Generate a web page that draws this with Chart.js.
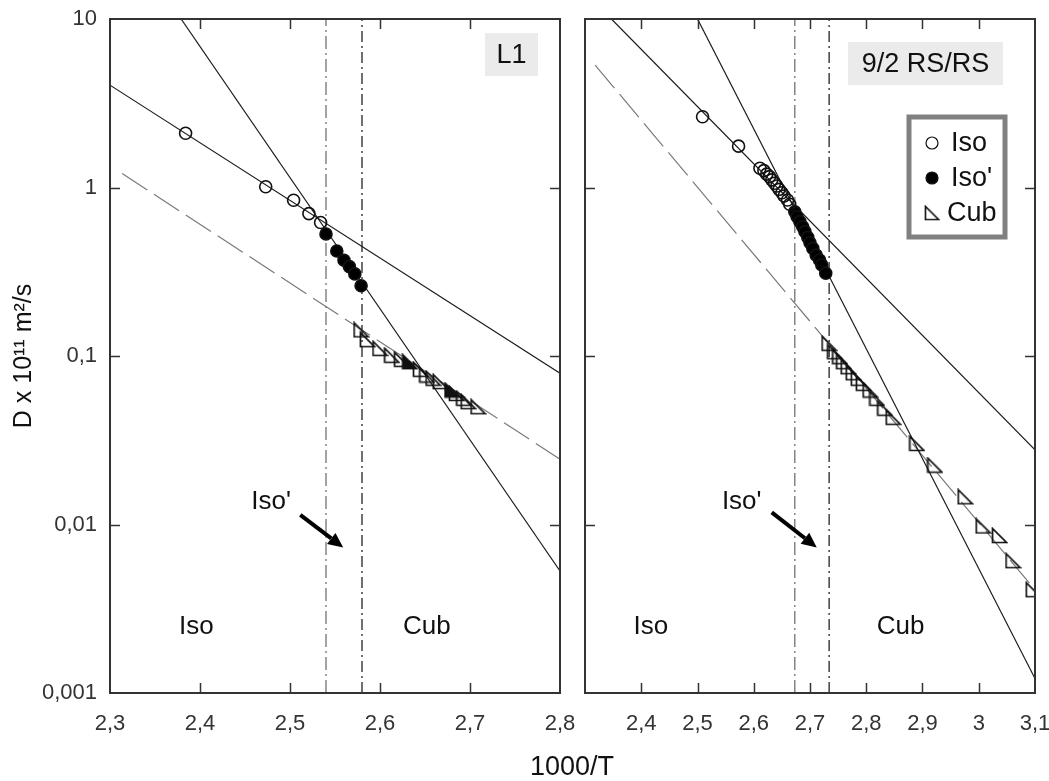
<!DOCTYPE html>
<html>
<head>
<meta charset="utf-8">
<script src="https://cdn.jsdelivr.net/npm/chart.js@4.4.1/dist/chart.umd.min.js"></script>
<style>
  body { margin: 0; background: #fff; }
  #wrap { position: relative; width: 1049px; height: 781px; overflow: hidden; }
  #left { position: absolute; left: 0; top: 0; }
  #right { position: absolute; left: 572px; top: 0; }
  #xtitle { position: absolute; left: 472px; width: 200px; top: 751px; text-align: center;
            font: 27px "Liberation Sans", Arial, sans-serif; line-height: 30px; color: #111; }
</style>
</head>
<body>
<div id="wrap">
  <canvas id="left" width="595" height="781"></canvas>
  <canvas id="right" width="477" height="781"></canvas>
  <div id="xtitle">1000/T</div>
</div>
<script>
// оси
const yTicks = [0.001, 0.01, 0.1, 1, 10];
const xTicksL1 = [2.3, 2.4, 2.5, 2.6, 2.7, 2.8];
const xTicksRS = [2.3, 2.4, 2.5, 2.6, 2.7, 2.8, 2.9, 3.0, 3.1];

// L1 - точки
const l1IsoX = [2.384, 2.473, 2.504, 2.521, 2.534];
const l1IsoY = [2.10, 1.01, 0.84, 0.70, 0.62];
const l1IsoPX = [2.540, 2.552, 2.560, 2.566, 2.572, 2.579];
const l1IsoPY = [0.53, 0.42, 0.37, 0.339, 0.307, 0.261];
const l1CubX = [2.579, 2.586, 2.600, 2.613, 2.624, 2.645, 2.652, 2.659, 2.667, 2.685, 2.693, 2.698, 2.709];
const l1CubY = [0.143, 0.125, 0.111, 0.101, 0.0955, 0.0834, 0.0771, 0.0738, 0.0705, 0.060, 0.0561, 0.0536, 0.050];
const l1CubDarkX = [2.633, 2.680];
const l1CubDarkY = [0.0925, 0.0628];
// L1 - прямые
const l1IsoFitX = [2.3, 2.8];
const l1IsoFitY = [4.05, 0.079];
const l1IsoPFitX = [2.379, 2.8];
const l1IsoPFitY = [10, 0.0053];
const l1CubFitX = [2.3135, 2.8];
const l1CubFitY = [1.21, 0.0244];
const l1Trans = [2.540, 2.580];

// 9/2 RS/RS - точки
const rsIsoX = [2.509, 2.573, 2.611, 2.618, 2.623, 2.628, 2.632, 2.637, 2.641, 2.645, 2.650, 2.654, 2.660, 2.664];
const rsIsoY = [2.63, 1.76, 1.30, 1.26, 1.20, 1.16, 1.11, 1.06, 1.02, 0.975, 0.931, 0.891, 0.843, 0.795];
const rsIsoPX = [2.673, 2.677, 2.682, 2.687, 2.691, 2.696, 2.700, 2.705, 2.711, 2.717, 2.721, 2.728];
const rsIsoPY = [0.718, 0.671, 0.627, 0.585, 0.547, 0.506, 0.470, 0.435, 0.397, 0.371, 0.347, 0.310];
const rsCubX = [2.734, 2.744, 2.753, 2.760, 2.768, 2.777, 2.786, 2.795, 2.807, 2.819, 2.833, 2.848, 2.890, 2.922, 2.976, 3.008, 3.037, 3.061, 3.097];
const rsCubY = [0.119, 0.106, 0.099, 0.0925, 0.0864, 0.0796, 0.0738, 0.0689, 0.0628, 0.0561, 0.049, 0.0433, 0.0303, 0.0225, 0.0146, 0.0098, 0.0086, 0.0061, 0.0041];
// 9/2 RS/RS - прямые
const rsIsoFitX = [2.347, 3.1];
const rsIsoFitY = [10, 0.0277];
const rsIsoPFitX = [2.500, 3.1];
const rsIsoPFitY = [10, 0.00122];
const rsCubFitX = [2.318, 3.1];
const rsCubFitY = [5.33, 0.0041];
const rsTrans = [2.673, 2.734];

const FONT = '"Liberation Sans", Arial, sans-serif';

function pairs(xs, ys) {
  return xs.map((x, i) => ({ x: x, y: ys[i] }));
}
function vline(x) {
  return [{ x: x, y: 0.001 }, { x: x, y: 10 }];
}
function fmt(v) {
  return String(Math.round(v * 10) / 10).replace('.', ',');
}

// треугольник-маркер
function makeTri(fill) {
  const c = document.createElement('canvas');
  c.width = 17; c.height = 17;
  const g = c.getContext('2d');
  g.beginPath();
  g.moveTo(1.5, 1.5);
  g.lineTo(1.5, 15.5);
  g.lineTo(15.5, 15.5);
  g.closePath();
  if (fill) { g.fillStyle = fill; g.fill(); }
  g.lineWidth = 1.7;
  g.strokeStyle = '#111';
  g.stroke();
  return c;
}
const triOpen = makeTri(null);
const triDark = makeTri('#111');

function arrow(ctx, x1, y1, x2, y2) {
  const a = Math.atan2(y2 - y1, x2 - x1);
  const head = 15, half = 7;
  const bx = x2 - head * Math.cos(a), by = y2 - head * Math.sin(a);
  ctx.strokeStyle = '#000';
  ctx.lineWidth = 4;
  ctx.beginPath();
  ctx.moveTo(x1, y1);
  ctx.lineTo(bx, by);
  ctx.stroke();
  ctx.fillStyle = '#000';
  ctx.beginPath();
  ctx.moveTo(x2, y2);
  ctx.lineTo(bx + half * Math.sin(a), by - half * Math.cos(a));
  ctx.lineTo(bx - half * Math.sin(a), by + half * Math.cos(a));
  ctx.closePath();
  ctx.fill();
}

// рамка, внутренние риски, подписи
const decoPlugin = {
  id: 'deco',
  afterDraw(chart, args, opts) {
    const ctx = chart.ctx;
    const a = chart.chartArea;
    const xs = chart.scales.x, ys = chart.scales.y;
    ctx.save();
    // риски внутрь
    ctx.strokeStyle = '#333';
    ctx.lineWidth = 1.5;
    opts.xTicks.slice(1, -1).forEach(v => {
      const px = Math.round(xs.getPixelForValue(v)) + 0.5;
      ctx.beginPath();
      ctx.moveTo(px, a.bottom); ctx.lineTo(px, a.bottom - 10);
      ctx.moveTo(px, a.top); ctx.lineTo(px, a.top + 10);
      ctx.stroke();
    });
    yTicks.slice(1, -1).forEach(v => {
      const py = Math.round(ys.getPixelForValue(v)) + 0.5;
      ctx.beginPath();
      ctx.moveTo(a.left, py); ctx.lineTo(a.left + 10, py);
      ctx.moveTo(a.right, py); ctx.lineTo(a.right - 10, py);
      ctx.stroke();
    });
    // рамка
    ctx.lineWidth = 2;
    ctx.strokeRect(a.left, a.top, a.right - a.left, a.bottom - a.top);

    // области
    ctx.fillStyle = '#111';
    ctx.font = '26px ' + FONT;
    ctx.textAlign = 'center';
    ctx.textBaseline = 'middle';
    opts.texts.forEach(t => {
      ctx.fillText(t.text, xs.getPixelForValue(t.x), ys.getPixelForValue(t.y));
    });
    const ar = opts.arrow;
    arrow(ctx, xs.getPixelForValue(ar.x1), ys.getPixelForValue(ar.y1),
               xs.getPixelForValue(ar.x2), ys.getPixelForValue(ar.y2));

    // название панели
    const b = opts.badge;
    const bx = a.right - b.right - b.w, by = a.top + b.top;
    ctx.fillStyle = '#ebebeb';
    ctx.fillRect(bx, by, b.w, b.h);
    ctx.fillStyle = '#111';
    ctx.font = '27px ' + FONT;
    ctx.fillText(b.text, bx + b.w / 2, by + b.h / 2 + 1);

    // легенда
    if (opts.legend) {
      const L = opts.legend;
      const lx = a.right - L.right - L.w, ly = a.top + L.top;
      ctx.fillStyle = '#fff';
      ctx.fillRect(lx, ly, L.w, L.h);
      ctx.strokeStyle = '#808080';
      ctx.lineWidth = 5;
      ctx.strokeRect(lx, ly, L.w, L.h);
      ctx.textAlign = 'left';
      ctx.font = '27px ' + FONT;
      L.items.forEach((it, i) => {
        const cy = ly + 26 + i * 35;
        const cx = lx + 23;
        if (it.kind === 'tri') {
          ctx.drawImage(triOpen, cx - 8, cy - 8, 16, 16);
        } else {
          ctx.beginPath();
          ctx.arc(cx, cy, 6, 0, Math.PI * 2);
          ctx.lineWidth = 1.2;
          ctx.strokeStyle = '#111';
          if (it.kind === 'dot') { ctx.fillStyle = '#000'; ctx.fill(); }
          ctx.stroke();
        }
        ctx.fillStyle = '#111';
        ctx.fillText(it.text, lx + (it.kind === 'tri' ? 38 : 42), cy + 1);
      });
    }
    ctx.restore();
  }
};

function lineSet(data, color, dash) {
  return {
    data: data, showLine: true, pointRadius: 0, borderColor: color,
    borderWidth: 1.2, borderDash: dash || [], fill: false
  };
}
function markSet(data, style, fill, r) {
  return {
    data: data, showLine: false, pointStyle: style, pointRadius: r,
    pointBorderColor: '#111', pointBackgroundColor: fill, pointBorderWidth: 1.6
  };
}

function makeChart(id, p) {
  return new Chart(document.getElementById(id).getContext('2d'), {
    type: 'scatter',
    data: {
      datasets: [
        markSet(pairs(p.isoX, p.isoY), 'circle', 'rgba(255,255,255,0)', 6),
        markSet(pairs(p.isoPX, p.isoPY), 'circle', '#000', 6),
        markSet(pairs(p.cubX, p.cubY), triOpen, 'rgba(0,0,0,0)', 8),
        markSet(pairs(p.darkX || [], p.darkY || []), triDark, '#000', 8),
        lineSet(pairs(p.isoFitX, p.isoFitY), '#1a1a1a'),
        lineSet(pairs(p.isoPFitX, p.isoPFitY), '#1a1a1a'),
        lineSet(pairs(p.cubFitX, p.cubFitY), '#7a7a7a', [30, 8]),
        lineSet(vline(p.trans[0]), '#666', [13, 4, 2, 4]),
        lineSet(vline(p.trans[1]), '#111', [11, 4, 2, 4])
      ]
    },
    options: {
      responsive: false,
      animation: false,
      devicePixelRatio: 1,
      events: [],
      layout: { padding: { top: 19, right: p.padRight, left: 0, bottom: 0 } },
      plugins: {
        legend: { display: false },
        tooltip: { enabled: false },
        deco: p.deco
      },
      scales: {
        x: {
          type: 'linear', min: p.xTicks[0], max: p.xTicks[p.xTicks.length - 1],
          grid: { display: false, drawTicks: false },
          border: { display: false },
          afterBuildTicks: s => { s.ticks = p.xTicks.map(v => ({ value: v })); },
          afterFit: s => { s.height = 88; s.paddingLeft = 0; s.paddingRight = 0; },
          ticks: {
            autoSkip: false, maxRotation: 0, padding: 18, color: '#333',
            font: { family: FONT, size: 22 },
            callback: v => (p.hideFirst && v === p.xTicks[0]) ? '' : fmt(v)
          }
        },
        y: {
          type: 'logarithmic', min: 0.001, max: 10,
          grid: { display: false, drawTicks: false },
          border: { display: false },
          afterBuildTicks: s => { s.ticks = yTicks.map(v => ({ value: v })); },
          afterFit: s => { s.width = p.yWidth; s.paddingTop = 0; s.paddingBottom = 0; },
          title: {
            display: p.yTitle, text: 'D x 10¹¹ m²/s', color: '#111',
            font: { family: FONT, size: 25 }, padding: { top: 9, bottom: 0 }
          },
          ticks: {
            display: p.yTitle, autoSkip: false, padding: 13, color: '#333',
            font: { family: FONT, size: 22 },
            callback: v => String(v).replace('.', ',')
          }
        }
      }
    },
    plugins: [decoPlugin]
  });
}

// левая панель
makeChart('left', {
  isoX: l1IsoX, isoY: l1IsoY, isoPX: l1IsoPX, isoPY: l1IsoPY,
  cubX: l1CubX, cubY: l1CubY, darkX: l1CubDarkX, darkY: l1CubDarkY,
  isoFitX: l1IsoFitX, isoFitY: l1IsoFitY, isoPFitX: l1IsoPFitX, isoPFitY: l1IsoPFitY,
  cubFitX: l1CubFitX, cubFitY: l1CubFitY, trans: l1Trans,
  xTicks: xTicksL1, hideFirst: false, yTitle: true, yWidth: 110, padRight: 35,
  deco: {
    xTicks: xTicksL1,
    texts: [
      { text: 'Iso', x: 2.396, y: 0.00247 },
      { text: 'Cub', x: 2.652, y: 0.00247 },
      { text: "Iso'", x: 2.479, y: 0.0136 }
    ],
    arrow: { x1: 2.5114, y1: 0.0114, x2: 2.5591, y2: 0.0073 },
    badge: { text: 'L1', right: 22, top: 14, w: 53, h: 43 }
  }
});

// правая панель
makeChart('right', {
  isoX: rsIsoX, isoY: rsIsoY, isoPX: rsIsoPX, isoPY: rsIsoPY,
  cubX: rsCubX, cubY: rsCubY,
  isoFitX: rsIsoFitX, isoFitY: rsIsoFitY, isoPFitX: rsIsoPFitX, isoPFitY: rsIsoPFitY,
  cubFitX: rsCubFitX, cubFitY: rsCubFitY, trans: rsTrans,
  xTicks: xTicksRS, hideFirst: true, yTitle: false, yWidth: 13, padRight: 14,
  deco: {
    xTicks: xTicksRS,
    texts: [
      { text: 'Iso', x: 2.417, y: 0.00247 },
      { text: 'Cub', x: 2.861, y: 0.00247 },
      { text: "Iso'", x: 2.5786, y: 0.0136 }
    ],
    arrow: { x1: 2.632, y1: 0.0118, x2: 2.712, y2: 0.0073 },
    badge: { text: '9/2 RS/RS', right: 32, top: 23, w: 155, h: 43 },
    legend: {
      right: 30, top: 98, w: 96, h: 120,
      items: [
        { text: 'Iso', kind: 'circle' },
        { text: "Iso'", kind: 'dot' },
        { text: 'Cub', kind: 'tri' }
      ]
    }
  }
});
</script>
</body>
</html>
